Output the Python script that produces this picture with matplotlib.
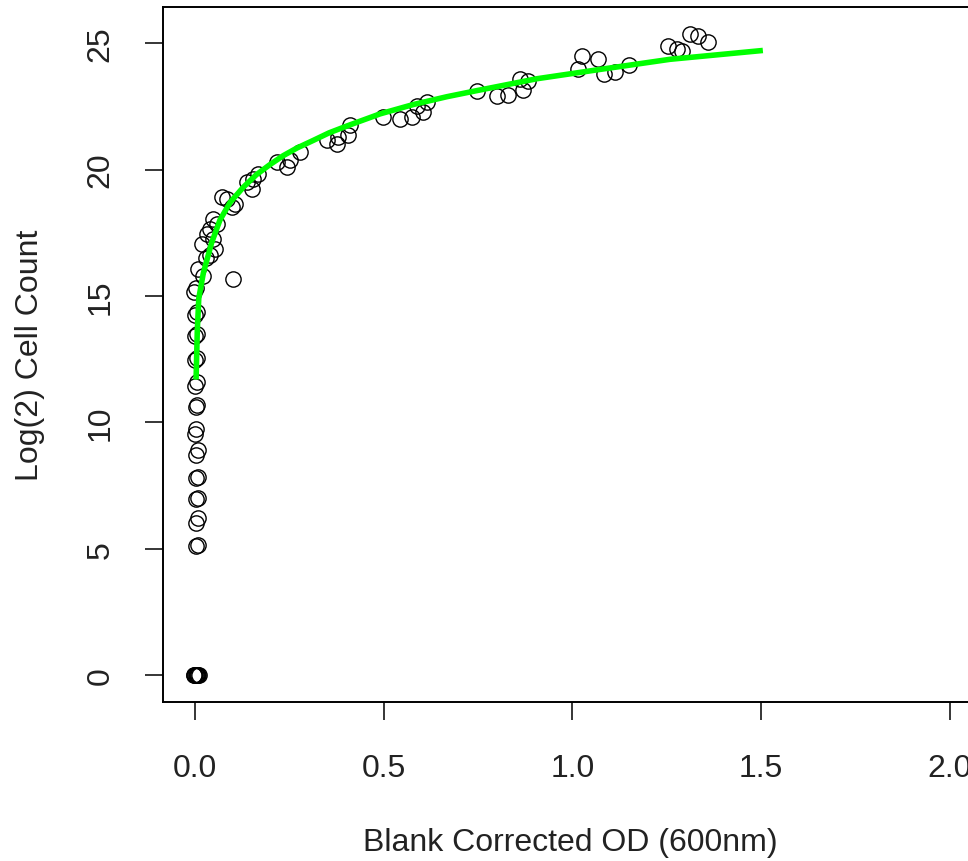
import numpy as np
import matplotlib
matplotlib.use('Agg')
import matplotlib.pyplot as plt

plt.rcParams['font.family'] = ['Liberation Sans', 'DejaVu Sans']

# optical density vs log2 cell count
od = [-0.004, -0.002, 0.0, 0.002, 0.004, 0.006, 0.008, 0.010,
      0.002, 0.008, 0.002, 0.009, 0.003, 0.008, 0.003, 0.008,
      0.002, 0.009, 0.001, 0.002, 0.003, 0.005, 0.001, 0.006,
      -0.001, 0.004, -0.001, 0.004, 0.000, 0.004, -0.004, 0.003,
      0.009, 0.022, 0.030, 0.040, 0.018, 0.031, 0.040, 0.048,
      0.057, 0.048, 0.053, 0.101, 0.071, 0.084, 0.097, 0.106,
      0.137, 0.150, 0.154, 0.168, 0.216, 0.243, 0.252, 0.278,
      0.349, 0.375, 0.380, 0.406, 0.411, 0.499, 0.543, 0.574,
      0.587, 0.605, 0.614, 0.746, 0.799, 0.828, 0.861, 0.883,
      0.870, 1.014, 1.024, 1.068, 1.084, 1.113, 1.150, 1.254,
      1.276, 1.291, 1.311, 1.333, 1.358]
log_count = [0, 0, 0, 0, 0, 0, 0, 0,
             5.10, 5.15, 6.00, 6.20, 6.95, 7.00, 7.80, 7.85,
             8.70, 8.90, 9.55, 9.75, 10.62, 10.70, 11.45, 11.60,
             12.45, 12.55, 13.40, 13.50, 14.25, 14.35, 15.14, 15.30,
             16.07, 15.80, 16.50, 16.60, 17.06, 17.45, 17.65, 18.05,
             17.85, 17.26, 16.86, 15.67, 18.90, 18.84, 18.51, 18.64,
             19.50, 19.23, 19.63, 19.83, 20.29, 20.10, 20.36, 20.69,
             21.15, 21.01, 21.28, 21.35, 21.75, 22.08, 22.00, 22.08,
             22.53, 22.27, 22.67, 23.12, 22.90, 22.95, 23.59, 23.52,
             23.15, 23.98, 24.48, 24.38, 23.78, 23.87, 24.14, 24.90,
             24.77, 24.70, 25.37, 25.30, 25.04]

# fitted curve
fit_od = [0.003, 0.006, 0.010, 0.022, 0.044, 0.066, 0.093, 0.128, 0.163,
          0.199, 0.234, 0.270, 0.313, 0.355, 0.402, 0.490, 0.578, 0.667,
          0.746, 0.905, 1.082, 1.258, 1.497]
fit_count = [11.8, 13.6, 14.9, 15.9, 17.1, 18.0, 18.7, 19.3, 19.8,
             20.2, 20.55, 20.85, 21.15, 21.45, 21.72, 22.2, 22.57, 22.88,
             23.12, 23.59, 23.98, 24.36, 24.7]

x_ticks = [0.0, 0.5, 1.0, 1.5, 2.0]
y_ticks = [0, 5, 10, 15, 20, 25]

W, H = 968, 862
fig = plt.figure(figsize=(W / 100, H / 100), dpi=100)
ax = fig.add_axes([163 / W, (H - 703) / H, (1010 - 163) / W, (703 - 8) / H])

ax.plot(od, log_count, 'o', mfc='none', mec='black', ms=11, mew=1.0)
ax.plot(fit_od, fit_count, color='#00ff00', lw=4)

ax.set_xlim(-0.0848, 2.159)
ax.set_ylim(-1.068, 26.43)
ax.set_xticks(x_ticks)
ax.set_xticklabels([f'{t:.1f}' for t in x_ticks])
ax.set_yticks(y_ticks)
ax.set_yticklabels([str(t) for t in y_ticks], rotation=90, va='center')

for s in ax.spines.values():
    s.set_linewidth(1.4)
ax.tick_params(direction='out', length=13, width=1.1, labelsize=23,
               colors='black', labelcolor='#222222')
ax.tick_params(axis='x', pad=24)
ax.tick_params(axis='y', pad=21)

fig.text(570 / W, 1 - 843 / H, 'Blank Corrected OD (600nm)', fontsize=23,
         ha='center', va='center', color='#222222')
fig.text(30 / W, 1 - 355 / H, 'Log(2) Cell Count', fontsize=23,
         ha='center', va='center', rotation=90, color='#222222')

fig.savefig('out.png', dpi=100)
